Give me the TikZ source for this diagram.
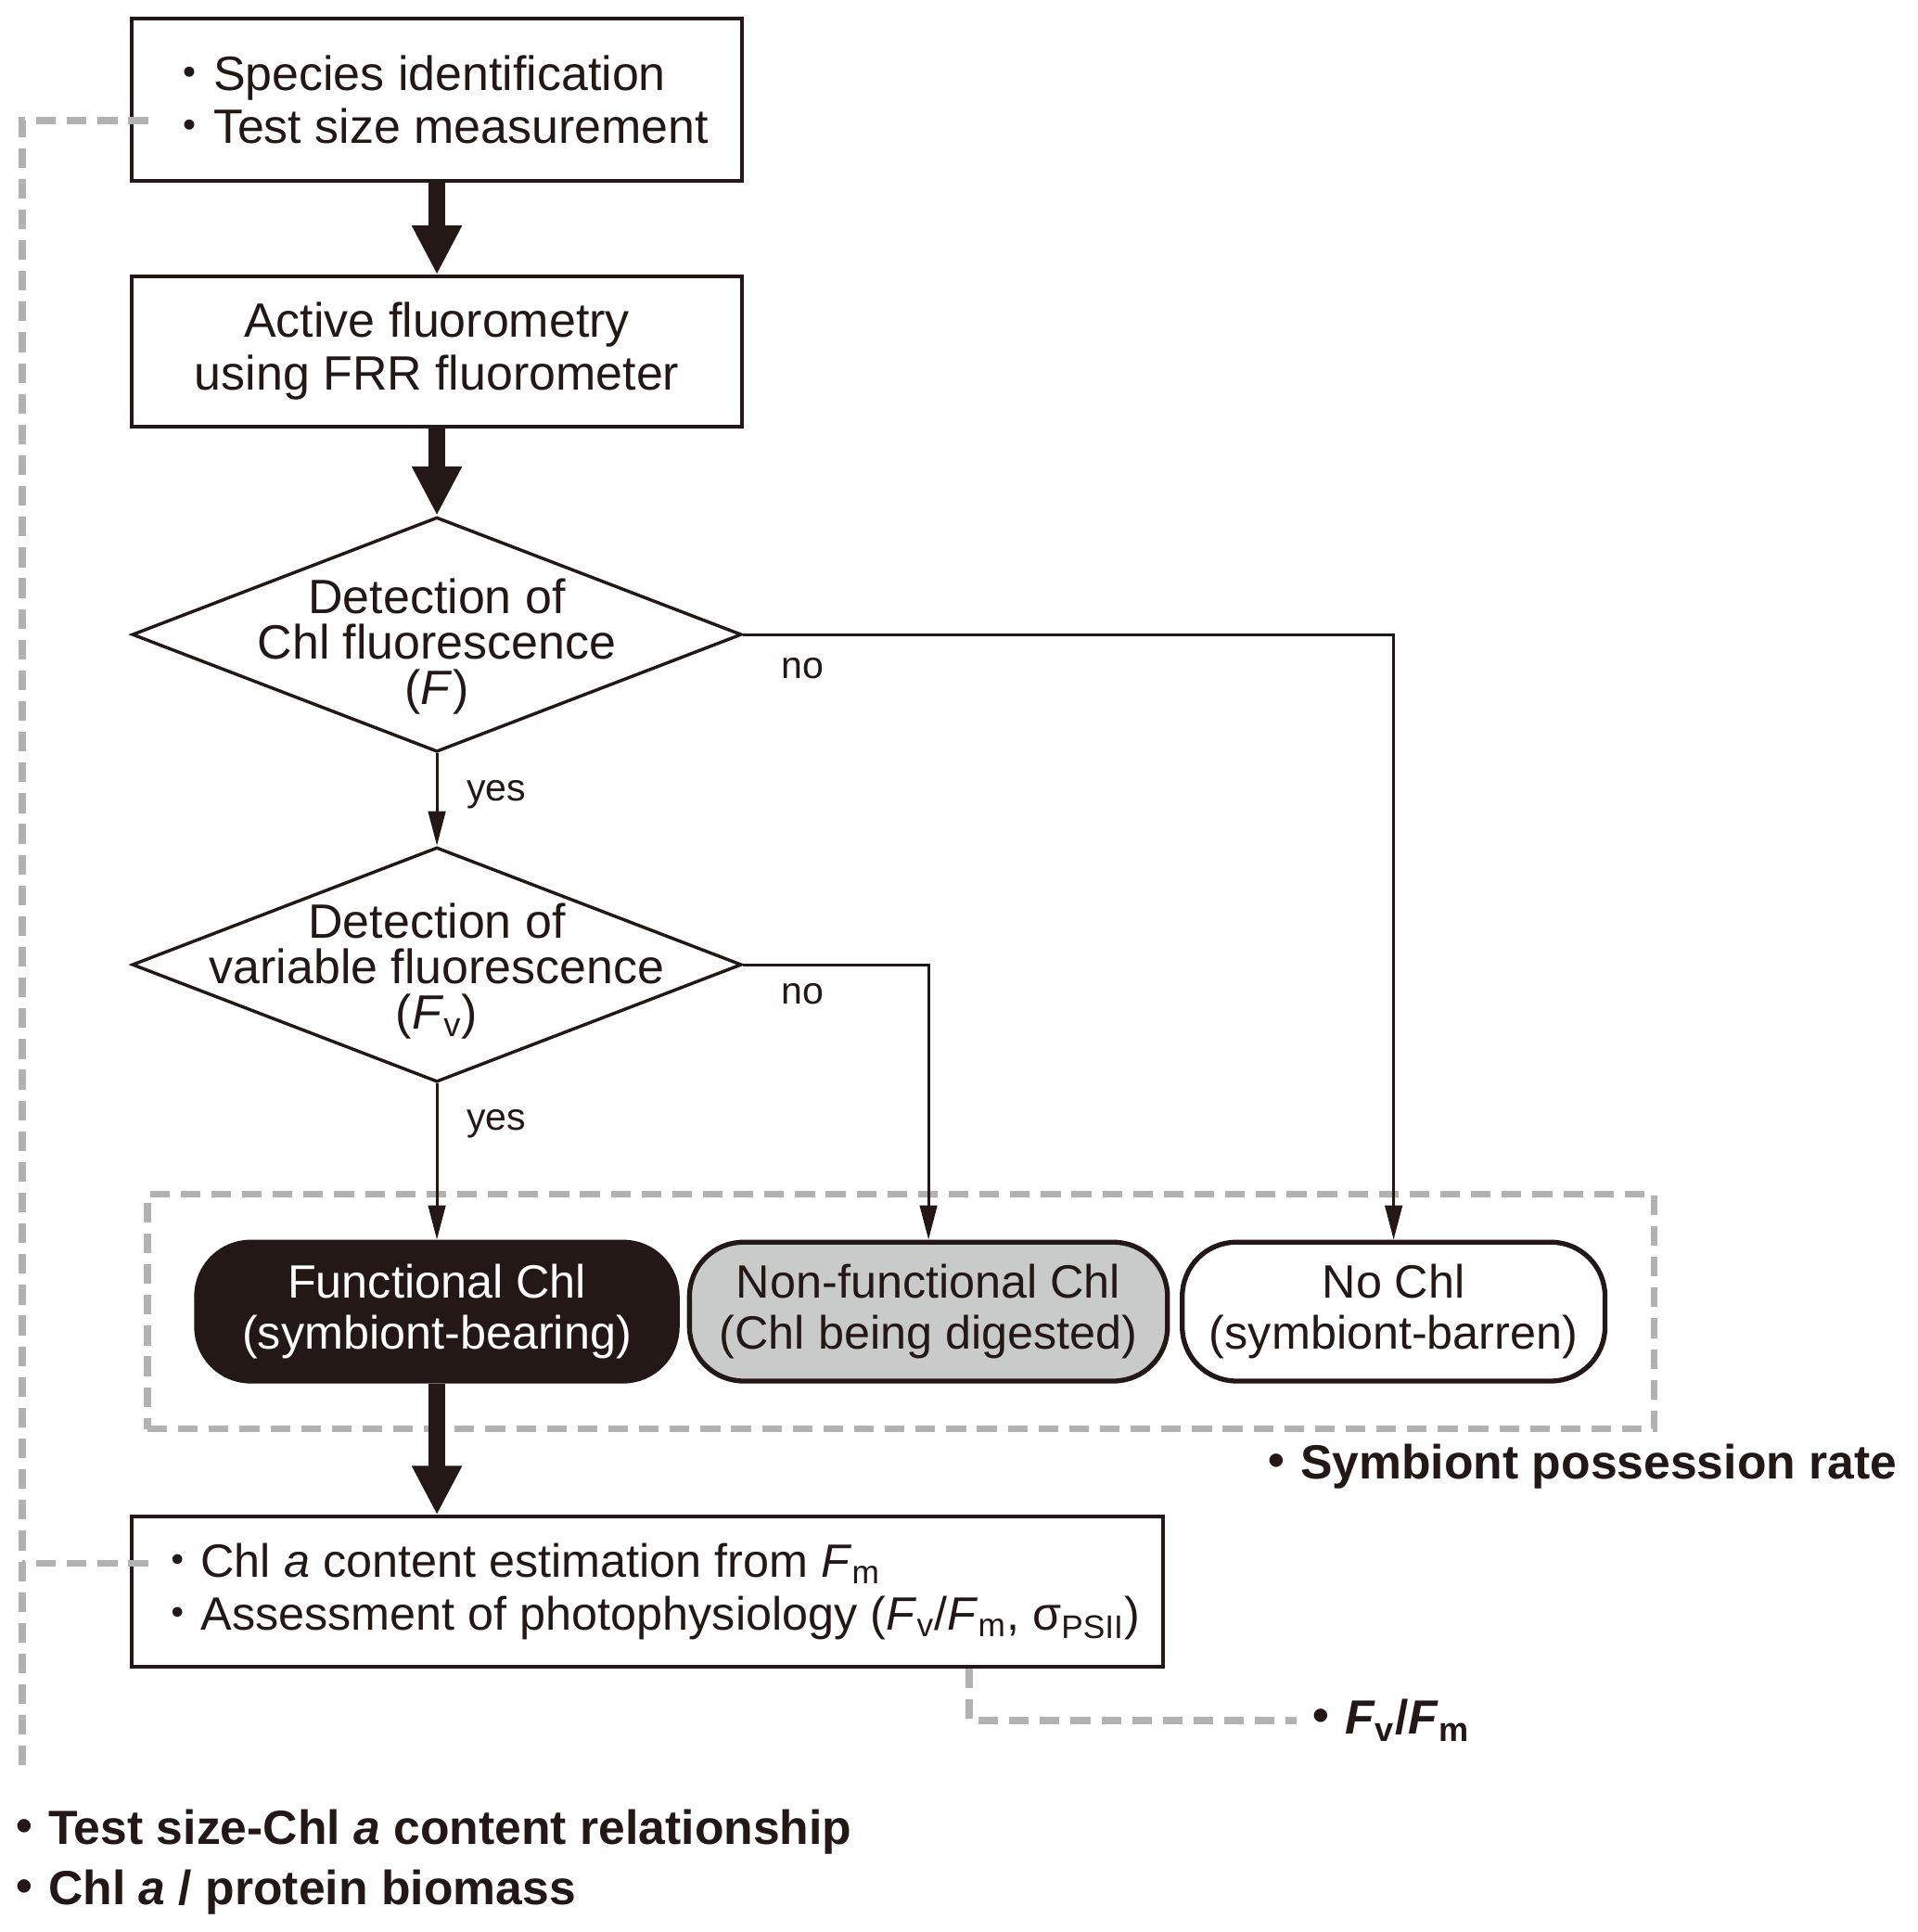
\documentclass[tikz,border=0pt]{standalone}
\usepackage{fontspec}
\setmainfont{Liberation Sans}
\newfontfamily\cjk{Noto Sans CJK JP}
\usetikzlibrary{positioning,shapes.geometric,arrows.meta,fit}
\definecolor{ink}{RGB}{35,24,21}
\definecolor{shade}{RGB}{201,202,202}
\definecolor{guide}{RGB}{178,178,179}
\newcommand{\dotitem}{{\cjk ・}}
\newcommand{\Fsub}[1]{\textit{F}\textsubscript{#1}}

\begin{document}
\begin{tikzpicture}[x=0.5pt, y=-0.5pt,
    box/.style={draw=ink, line width=1.5pt, minimum width=248.5pt, text=ink, font=\fontsize{19.6}{21.5}\selectfont},
    decision/.style={diamond, draw=ink, line width=1.3pt, minimum width=248pt, minimum height=95.5pt, inner sep=0pt},
    dtext/.style={align=center, text=ink, font=\fontsize{19.6}{18.5}\selectfont},
    outcome/.style={draw=ink, line width=2pt, rounded corners=22pt, minimum height=56.5pt, align=center, font=\fontsize{19}{20.5}\selectfont},
    flow/.style={-{Triangle[width=7pt,length=14pt]}, draw=ink, line width=1.1pt},
    bigflow/.style={-{Triangle[width=19pt,length=20pt]}, draw=ink, line width=7pt},
    guideline/.style={draw=guide, line width=2.8pt, dash pattern=on 8pt off 4.5pt},
    answer/.style={text=ink, inner sep=0pt, font=\fontsize{15.5}{18}\selectfont},
    note/.style={text=ink, inner sep=0pt, font=\bfseries\fontsize{19.5}{24.5}\selectfont}]

    \path[use as bounding box, fill=white] (0,0) rectangle (1560,1572);

    % Main column
    \node[box, align=left, minimum height=66pt] (survey) at (355.5,81) {\dotitem Species identification\\\dotitem Test size measurement};
    \node[box, align=center, minimum height=61pt, below=37.5pt of survey] (frr) {Active fluorometry\\using FRR fluorometer};
    \node[decision, below=35.5pt of frr, label={[dtext, yshift=-5pt]center:{Detection of\\Chl fluorescence\\(\textit{F})}}] (detF) {};
    \node[decision, below=37.5pt of detF, label={[dtext, yshift=-2.5pt]center:{Detection of\\variable fluorescence\\(\Fsub{v})}}] (detFv) {};

    % Outcomes
    \node[outcome, fill=ink, text=white, minimum width=195.5pt, below=63.5pt of detFv] (funct) {Functional Chl\\(symbiont-bearing)};
    \node[outcome, fill=shade, text=ink, minimum width=194.5pt, right=3pt of funct] (nonfunct) {Non-functional Chl\\(Chl being digested)};
    \node[outcome, fill=white, text=ink, minimum width=172pt, right=4pt of nonfunct] (nochl) {No Chl\\(symbiont-barren)};
    \node[guideline, fit=(funct)(nochl), inner xsep=19pt, inner ysep=18.5pt] (group) {};

    \coordinate (estcorner) at (survey.west |- funct.south);
    \node[box, align=left, minimum width=419.5pt, minimum height=61pt, anchor=north west, font=\fontsize{19}{21.5}\selectfont] (estim) at ([yshift=-53.5pt]estcorner) {\dotitem Chl \textit{a} content estimation from \Fsub{m}\\\dotitem Assessment of photophysiology (\Fsub{v}/\Fsub{m}, σ\textsubscript{PSII})};

    % Transitions
    \draw[bigflow] (survey) -- (frr);
    \draw[bigflow] (frr) -- (detF);
    \draw[flow] (detF.south) -- node[pos=0, answer, anchor=north west, xshift=11.5pt, yshift=-10.5pt] {yes} (detFv.north);
    \draw[flow] (detF.east) -| node[pos=0, answer, anchor=north west, xshift=15pt, yshift=-9pt] {no} (nochl.north);
    \draw[flow] (detFv.east) -| node[pos=0, answer, anchor=north west, xshift=15pt, yshift=-7pt] {no} (nonfunct.north);
    \draw[flow] (detFv.south) -- node[pos=0, answer, anchor=north west, xshift=11.5pt, yshift=-10pt] {yes} (detFv.south |- funct.north);
    \draw[bigflow] (funct) -- (funct |- estim.north);

    % Results
    \node[note, anchor=base east] (rate) at (1544,1203) {\dotitem Symbiont possession rate};
    \node[note, anchor=west] (fvfm) at (1055,1400) {\dotitem\Fsub{v}/\Fsub{m}};
    \node[note, align=left, anchor=north west] (summary) at (0,1472) {\dotitem Test size-Chl \textit{a} content relationship\\\dotitem Chl \textit{a} / protein biomass};

    % Dashed guides
    \coordinate (surveytab) at ([xshift=7.5pt, yshift=-8.5pt]survey.west);
    \coordinate (estimtab) at ([xshift=7.5pt, yshift=11.5pt]estim.west);
    \coordinate (fvtab) at ([xshift=341.5pt]estim.south west);
    \coordinate (leftend) at (18,1440);
    \draw[guideline] (surveytab) -| (leftend);
    \draw[guideline] (estimtab) -- (estimtab -| leftend);
    \draw[guideline] (fvtab) |- (fvfm.west);

\end{tikzpicture}
\end{document}
